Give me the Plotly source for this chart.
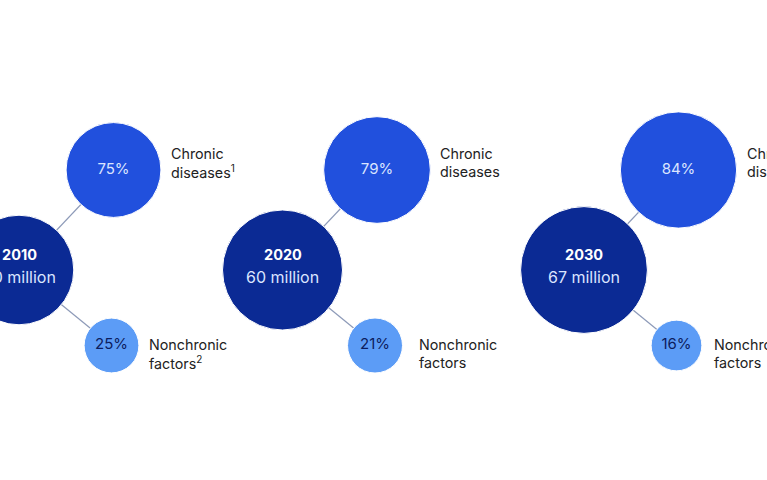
import plotly.graph_objects as go

# ---- data ----
years = ["2010", "2020", "2030"]
total_millions = [50, 60, 67]
chronic_share = [75, 79, 84]
nonchronic_share = [25, 21, 16]
chronic_label = ["Chronic", "diseases"]
nonchronic_label = ["Nonchronic", "factors"]
chronic_note = ["1", "", ""]
nonchronic_note = ["2", "", ""]

# ---- layout constants (pixel space) ----
W, H = 767, 480
group_x = [19, 282.5, 584]
center_y = 270
chr_dx, chr_dy = 94.5, -100
non_dx, non_dy = 92.5, 75.5
SIZEREF = 1 / 120  # area mode: radius = sqrt(v / 2 / sizeref)
label_gap_chr = [8, 8, 8]
label_gap_non = [8, 14, 10]

C_TOTAL = "#0b2a94"
C_CHR = "#2150dd"
C_NON = "#5c9cf6"
C_LINE = "#8d9ab8"
FONT = "Inter"
LBL = 14.3

chr_vals = [t * s / 100 for t, s in zip(total_millions, chronic_share)]
non_vals = [t * s / 100 for t, s in zip(total_millions, nonchronic_share)]


def radius(v):
    return (v / 2 / SIZEREF) ** 0.5


fig = go.Figure()

# connectors
for i, gx in enumerate(group_x):
    for dx, dy in [(chr_dx, chr_dy), (non_dx, non_dy)]:
        fig.add_trace(go.Scatter(
            x=[gx, gx + dx], y=[center_y, center_y + dy], mode="lines",
            line=dict(color=C_LINE, width=1.2), hoverinfo="skip", showlegend=False))

# circles
fig.add_trace(go.Scatter(
    x=group_x, y=[center_y] * 3, mode="markers",
    marker=dict(size=total_millions, sizemode="area", sizeref=SIZEREF, color=C_TOTAL, opacity=1),
    hoverinfo="skip", showlegend=False))
fig.add_trace(go.Scatter(
    x=[g + chr_dx for g in group_x], y=[center_y + chr_dy] * 3, mode="markers+text",
    marker=dict(size=chr_vals, sizemode="area", sizeref=SIZEREF, color=C_CHR, opacity=1),
    text=[f"{s}%" for s in chronic_share], textposition="middle center",
    textfont=dict(family=FONT, size=15, color="#dbe5ff"),
    hoverinfo="skip", showlegend=False))
fig.add_trace(go.Scatter(
    x=[g + non_dx for g in group_x], y=[center_y + non_dy] * 3, mode="markers+text",
    marker=dict(size=non_vals, sizemode="area", sizeref=SIZEREF, color=C_NON, opacity=1),
    text=[f"{s}%" for s in nonchronic_share], textposition="middle center",
    textfont=dict(family=FONT, size=15, color="#0c1d5e"),
    hoverinfo="skip", showlegend=False))

ann = []
for i, gx in enumerate(group_x):
    ann.append(dict(x=gx, y=center_y - 16, text=f"<b>{years[i]}</b>", showarrow=False,
                    font=dict(family=FONT, size=14.5, color="white")))
    ann.append(dict(x=gx, y=center_y + 7, text=f"{total_millions[i]} million", showarrow=False,
                    font=dict(family=FONT, size=16, color="#dbe5ff")))
    # chronic label
    lx = gx + chr_dx + radius(chr_vals[i]) + label_gap_chr[i]
    ly = center_y + chr_dy
    note = f"<sup>{chronic_note[i]}</sup>" if chronic_note[i] else ""
    ann.append(dict(x=lx, y=ly - 17, text=chronic_label[0], showarrow=False, xanchor="left",
                    font=dict(family=FONT, size=LBL, color="#222222")))
    ann.append(dict(x=lx, y=ly + 1, text=chronic_label[1] + note, showarrow=False, xanchor="left",
                    font=dict(family=FONT, size=LBL, color="#222222")))
    # nonchronic label
    lx = gx + non_dx + radius(non_vals[i]) + label_gap_non[i]
    ly = center_y + non_dy
    note = f"<sup>{nonchronic_note[i]}</sup>" if nonchronic_note[i] else ""
    ann.append(dict(x=lx, y=ly - 1.5, text=nonchronic_label[0], showarrow=False, xanchor="left",
                    font=dict(family=FONT, size=LBL, color="#222222")))
    ann.append(dict(x=lx, y=ly + 16.5, text=nonchronic_label[1] + note, showarrow=False, xanchor="left",
                    font=dict(family=FONT, size=LBL, color="#222222")))

fig.update_layout(
    width=W, height=H, margin=dict(l=0, r=0, t=0, b=0),
    paper_bgcolor="white", plot_bgcolor="white",
    xaxis=dict(range=[0, W], visible=False, fixedrange=True),
    yaxis=dict(range=[H, 0], visible=False, fixedrange=True),
    annotations=ann, showlegend=False,
)
fig.write_html("out.html", config={"displayModeBar": False},
               post_script="document.body.style.margin='0';document.body.style.overflow='hidden';")
